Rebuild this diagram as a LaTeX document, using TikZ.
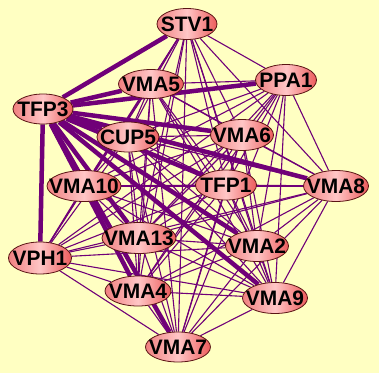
\documentclass[tikz,border=0pt]{standalone}
\usepackage{fontspec}
\setmainfont{Liberation Sans}
\usetikzlibrary{shapes.geometric, backgrounds}
\definecolor{paper}{RGB}{255,255,194}
\definecolor{link}{RGB}{112,0,120}
\definecolor{protL}{RGB}{240,128,128}
\definecolor{protM}{RGB}{255,198,198}
\definecolor{protR}{RGB}{236,92,92}
\definecolor{rim}{RGB}{90,20,20}

\begin{document}
\begin{tikzpicture}[x=1bp, y=-1bp,
 prot/.style={ellipse, draw=rim, line width=0.8bp, left color=protL, right color=protR, middle color=protM, inner sep=0pt, minimum height=31bp, font=\bfseries\fontsize{21}{21}\selectfont},
 weak/.style={link, line width=1.1bp},
 strong/.style={link, line width=4.5bp}]
 \useasboundingbox (0,0) rectangle (379,373);
 \node[prot, minimum width=60bp] (STV1) at (187,24) {\makebox[0pt]{STV1}};
 \node[prot, minimum width=61bp] (PPA1) at (286,80) {\makebox[0pt]{PPA1}};
 \node[prot, minimum width=65bp, minimum height=29bp] (VMA5) at (151,84) {\makebox[0pt]{VMA5}};
 \node[prot, minimum width=60bp, minimum height=30bp] (TFP3) at (43,109) {\makebox[0pt]{TFP3}};
 \node[prot, minimum width=62bp, minimum height=30bp] (CUP5) at (128,137) {\makebox[0pt]{CUP5}};
 \node[prot, minimum width=63bp] (VMA6) at (242,135) {\makebox[0pt]{VMA6}};
 \node[prot, minimum width=74bp] (VMA10) at (84,186) {\makebox[0pt]{VMA10}};
 \node[prot, minimum width=61bp, minimum height=30bp] (TFP1) at (226,185) {\makebox[0pt]{TFP1}};
 \node[prot, minimum width=65bp] (VMA8) at (336,186) {\makebox[0pt]{VMA8}};
 \node[prot, minimum width=63bp, minimum height=32bp] (VPH1) at (40,258) {\makebox[0pt]{VPH1}};
 \node[prot, minimum width=74bp] (VMA13) at (139,238) {\makebox[0pt]{VMA13}};
 \node[prot, minimum width=63bp] (VMA2) at (257,246) {\makebox[0pt]{VMA2}};
 \node[prot, minimum width=66bp, minimum height=30bp] (VMA4) at (138,291) {\makebox[0pt]{VMA4}};
 \node[prot, minimum width=65bp] (VMA9) at (275,298) {\makebox[0pt]{VMA9}};
 \node[prot, minimum width=65bp, minimum height=30bp] (VMA7) at (178,347) {\makebox[0pt]{VMA7}};
 \begin{scope}[on background layer]
  \fill[paper] (0,0) rectangle (379,373);
  \foreach \a [count=\i] in {STV1,PPA1,VMA5,CUP5,VMA6,VMA10,TFP1,VMA8,VPH1,VMA13,VMA2,VMA4,VMA9,VMA7}
   \foreach \b [count=\j] in {STV1,PPA1,VMA5,CUP5,VMA6,VMA10,TFP1,VMA8,VPH1,VMA13,VMA2,VMA4,VMA9,VMA7}
    {\ifnum\j>\i \draw[weak] (\a) -- (\b); \fi}
  \foreach \n in {STV1,VMA5,PPA1,CUP5,VMA6,VMA10,TFP1,VMA8,VPH1,VMA13,VMA2,VMA4,VMA9,VMA7}
   \draw[strong] (TFP3) -- (\n);
 \end{scope}
\end{tikzpicture}
\end{document}
